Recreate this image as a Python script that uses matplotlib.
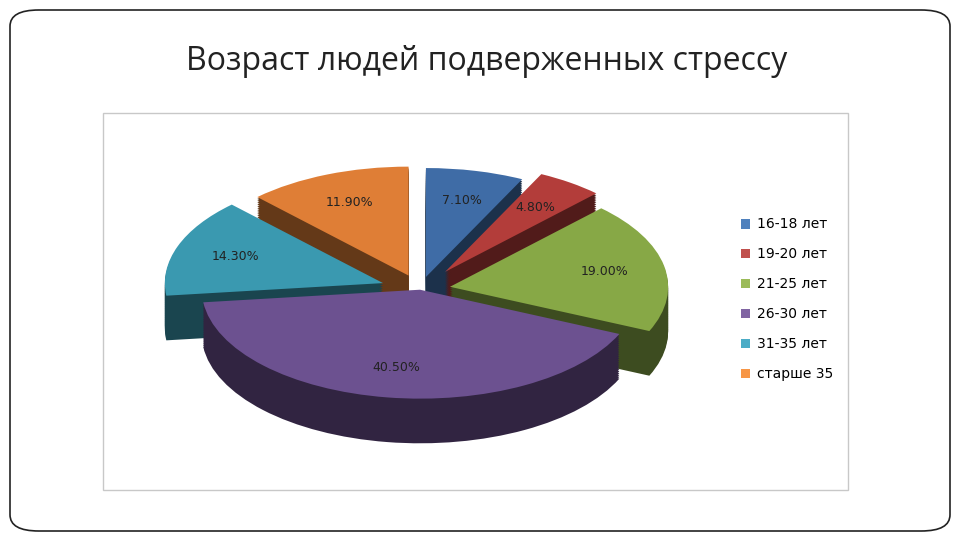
import matplotlib
matplotlib.use("Agg")
import matplotlib.pyplot as plt
from matplotlib.patches import FancyBboxPatch, Rectangle, Patch
import matplotlib.colors as mc

categories = ["16-18 лет", "19-20 лет", "21-25 лет", "26-30 лет", "31-35 лет", "старше 35"]
values = [7.1, 4.8, 19.0, 40.5, 14.3, 11.9]
labels = ["7.10%", "4.80%", "19.00%", "40.50%", "14.30%", "11.90%"]
colors = ["#3f6ca6", "#b33d3a", "#87a846", "#6c5190", "#3a99b0", "#df7e36"]
legend_colors = ["#4F81BD", "#C0504D", "#9BBB59", "#8064A2", "#4BACC6", "#F79646"]
explode = [0.12, 0.2, 0.14, 0.0, 0.18, 0.14]

fig = plt.figure(figsize=(9.6, 5.4), dpi=100)
W, H = 960, 540
def fx(x): return x / W
def fy(y): return 1 - y / H

# slide border
fig.patches.append(FancyBboxPatch((fx(10), fy(531)), fx(940), 521 / H,
    boxstyle="round,pad=0,rounding_size=0.03", transform=fig.transFigure,
    fill=False, edgecolor="#222222", linewidth=1.2))
# chart frame
fig.patches.append(Rectangle((fx(103), fy(490)), fx(745), 377 / H,
    transform=fig.transFigure, fill=False, edgecolor="#c8c8c8", linewidth=1))
fig.text(fx(487), fy(62), "Возраст людей подверженных стрессу", ha="center", va="center",
         fontsize=23, family=["Open Sans", "DejaVu Sans"], color="#222222")

# pie axes: 218 px/unit horizontally, 109 px/unit vertically
ax = fig.add_axes([fx(180), fy(464), fx(480), 305 / H])
ax.set_xlim(-1.1, 1.1)
ax.set_ylim(-1.6, 1.2)
ax.axis("off")

depth = 0.41
n = 24
side_cols = [tuple(c * 0.45 for c in mc.to_rgb(col)) for col in colors]
for k in range(n, 0, -1):
    ax.pie(values, colors=side_cols, explode=explode, startangle=90, counterclock=False,
           center=(0, -depth * k / n), radius=1.0, frame=True)
wedges, texts = ax.pie(values, colors=colors, explode=explode, startangle=90,
                       counterclock=False, center=(0, 0), radius=1.0, frame=True,
                       labels=labels, labeldistance=0.72,
                       textprops=dict(fontsize=9, color="#222222", ha="center"))
ax.set_xlim(-1.1, 1.1)
ax.set_ylim(-1.6, 1.2)
ax.set_aspect("auto")
ax.axis("off")

handles = [Patch(facecolor=c, edgecolor="none") for c in legend_colors]
fig.legend(handles, categories, loc="upper left", bbox_to_anchor=(fx(728), fy(205)),
           frameon=False, fontsize=10, handlelength=0.7, handleheight=0.7,
           labelspacing=1.15, handletextpad=0.5)

fig.savefig("out.png", dpi=100)
